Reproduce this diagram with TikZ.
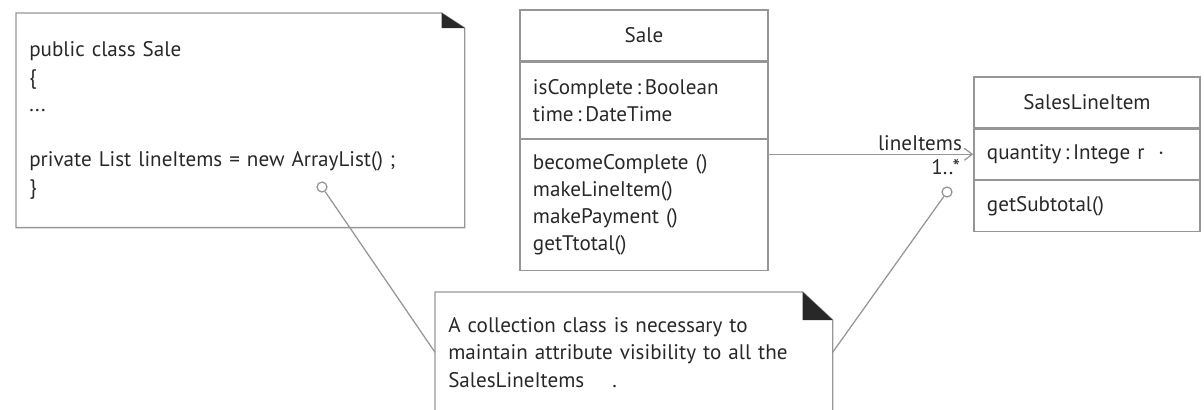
\documentclass[tikz,border=0pt]{standalone}
\usepackage{fontspec}
\setmainfont{PT Sans}
\usetikzlibrary{arrows.meta,positioning,calc}
\definecolor{linegray}{RGB}{150,150,150}
\definecolor{inkgray}{RGB}{40,40,40}

\begin{document}
\begin{tikzpicture}[
  x=0.025cm, y=-0.025cm,
  font=\fontsize{15}{19.2}\selectfont, text=inkgray,
  clsname/.style={draw=linegray, line width=0.9pt, inner sep=0pt,
                  minimum height=1.275cm},
  clspart/.style={draw=linegray, line width=0.9pt, inner ysep=0pt,
                  inner xsep=0.325cm, align=left},
  notetext/.style={inner ysep=0pt, inner xsep=0.325cm, align=left,
                   font=\fontsize{15}{19.6}\selectfont},
  noteline/.style={draw=linegray, line width=0.9pt},
  pin/.style={circle, draw=linegray, line width=0.9pt, fill=white,
              inner sep=0pt, minimum size=0.25cm},
  assoc/.style={linegray, line width=0.9pt,
                -{Straight Barb[length=2mm, width=3mm, line width=0.9pt]}},
  rolelbl/.style={text=inkgray, inner sep=2pt},
]
\useasboundingbox (0,0) rectangle (1204,409);

%% --- Code note (left) ---
\node[notetext, text width=10.55cm, minimum height=5.35cm, anchor=north west]
  (codeNote) at (16,13)
  {public class Sale\\ \{\\ ...\\[19.6pt] private List lineItems = new ArrayList() ;\\ \}};
\draw[noteline] (codeNote.south west) -- (codeNote.north west)
  -- ($(codeNote.north east)+(-23,0)$) -- ($(codeNote.north east)+(0,15)$)
  -- (codeNote.south east) -- cycle;
\fill[inkgray] ($(codeNote.north east)+(-23,0)$) -- ($(codeNote.north east)+(0,15)$)
  -- ($(codeNote.north east)+(-23,15)$) -- cycle;

%% --- Sale class ---
\node[clsname, minimum width=6.2cm] (saleName) at (644,35.5) {Sale};
\node[clspart, text width=5.55cm, minimum height=1.9cm, below=0pt of saleName]
  (saleAttr) {isComplete\,:\,Boolean\\ time\,:\,DateTime};
\node[clspart, text width=5.55cm, minimum height=3.275cm, below=0pt of saleAttr]
  (saleMeth) {becomeComplete ()\\ makeLineItem()\\ makePayment ()\\ getTtotal()};

%% --- SalesLineItem class ---
\node[clsname, minimum width=5.65cm] (sliName) at (1087,102.5) {SalesLineItem};
\node[clspart, text width=5.0cm, minimum height=1.25cm, below=0pt of sliName]
  (sliAttr) {quantity\,:\,Intege r \ \textperiodcentered};
\node[clspart, text width=5.0cm, minimum height=1.275cm, below=0pt of sliAttr]
  (sliMeth) {getSubtotal()};

% association Sale -> SalesLineItem
\draw[assoc] (saleMeth.east |- sliAttr.west) -- (sliAttr.west)
  node[rolelbl, pos=1, anchor=south east, xshift=-0.2cm] {lineItems}
  node[rolelbl, pos=1, anchor=north east, xshift=-0.25cm, yshift=-1pt] {1..*};

%% --- Collection note (bottom) ---
\node[notetext, text width=9.275cm, minimum height=3.0cm, anchor=north west]
  (collNote) at (435,292)
  {A collection class is necessary to\\ maintain attribute visibility to all the\\ SalesLineItems \quad.};
\draw[noteline] (collNote.south west) -- (collNote.north west)
  -- ($(collNote.north east)+(-30,0)$) -- ($(collNote.north east)+(0,28)$)
  -- (collNote.south east);
\fill[inkgray] ($(collNote.north east)+(-30,0)$) -- ($(collNote.north east)+(0,28)$)
  -- ($(collNote.north east)+(-30,28)$) -- cycle;

% note anchors
\node[pin] (pinCode) at (322,187) {};
\node[pin] (pinAssoc) at (947,192) {};
\draw[noteline] (pinCode) -- (collNote.west);
\draw[noteline] (pinAssoc) -- (collNote.east);

\end{tikzpicture}
\end{document}
